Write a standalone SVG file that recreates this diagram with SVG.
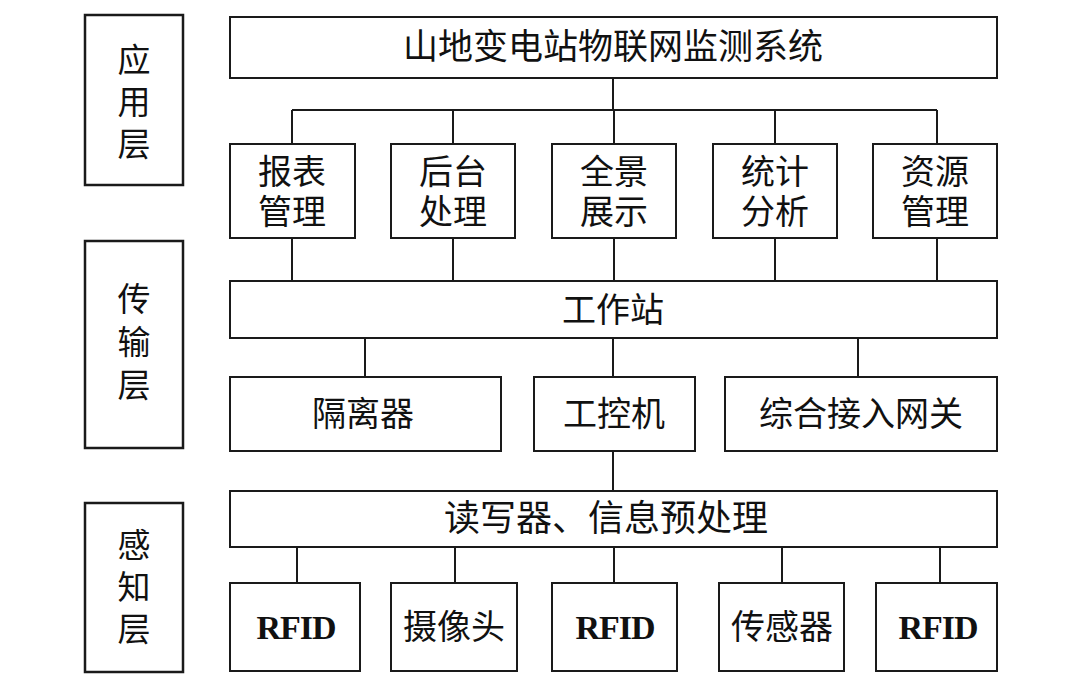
<svg xmlns="http://www.w3.org/2000/svg" width="1080" height="690" viewBox="0 0 1080 690">
<style>
.box{fill:#fff;stroke:#1a1a1a;stroke-width:2}
.lay{fill:#fff;stroke:#1a1a1a;stroke-width:2.5}
.t{font-family:"Liberation Serif","Noto Sans CJK SC",serif;font-size:34px;fill:#111;text-anchor:middle;dominant-baseline:central}
.lbl{font-size:33px}
.big{font-size:35px}
.rd{font-size:36px}
.rf{font-family:"Liberation Serif",serif;font-weight:bold;letter-spacing:-1px}
.c{stroke:#1a1a1a;stroke-width:2;fill:none}
</style>
<rect width="1080" height="690" fill="#fff"/>
<g id="connectors">
<path class="c" d="M613 78V110M292 110H937M292 110V144M453 110V144M614 110V144M775 110V144M937 110V144"/>
<path class="c" d="M292 238V282M453 238V282M614 238V282M775 238V282M937 238V282"/>
<path class="c" d="M365 338V377M613 338V377M858 338V377"/>
<path class="c" d="M613 451V491"/>
<path class="c" d="M297 547V583M455 547V583M614 547V583M782 547V583M940 547V583"/>
</g>
<g id="layer-app"><rect class="lay" x="85" y="15" width="98" height="170"/><text class="t lbl" x="134" y="61">应</text><text class="t lbl" x="134" y="103">用</text><text class="t lbl" x="134" y="145">层</text></g>
<g id="layer-trans"><rect class="lay" x="85" y="241" width="98" height="207"/><text class="t lbl" x="134" y="300">传</text><text class="t lbl" x="134" y="343">输</text><text class="t lbl" x="134" y="386">层</text></g>
<g id="layer-sense"><rect class="lay" x="85" y="503" width="98" height="169"/><text class="t lbl" x="134" y="546">感</text><text class="t lbl" x="134" y="588">知</text><text class="t lbl" x="134" y="630">层</text></g>
<g id="system"><rect class="box" x="230" y="17" width="767" height="61"/><text class="t big" x="613" y="47">山地变电站物联网监测系统</text></g>
<g id="report"><rect class="box" x="230" y="144" width="125" height="94"/><text class="t" x="292" y="172">报表</text><text class="t" x="292" y="212">管理</text></g>
<g id="backend"><rect class="box" x="391" y="144" width="124" height="94"/><text class="t" x="453" y="172">后台</text><text class="t" x="453" y="212">处理</text></g>
<g id="panorama"><rect class="box" x="552" y="144" width="124" height="94"/><text class="t" x="614" y="172">全景</text><text class="t" x="614" y="212">展示</text></g>
<g id="stats"><rect class="box" x="713" y="144" width="124" height="94"/><text class="t" x="775" y="172">统计</text><text class="t" x="775" y="212">分析</text></g>
<g id="resource"><rect class="box" x="873" y="144" width="124" height="94"/><text class="t" x="935" y="172">资源</text><text class="t" x="935" y="212">管理</text></g>
<g id="workstation"><rect class="box" x="230" y="281" width="767" height="57"/><text class="t" x="613" y="310">工作站</text></g>
<g id="isolator"><rect class="box" x="230" y="377" width="271" height="74"/><text class="t" x="363" y="414">隔离器</text></g>
<g id="ipc"><rect class="box" x="534" y="377" width="161" height="74"/><text class="t" x="614" y="414">工控机</text></g>
<g id="gateway"><rect class="box" x="725" y="377" width="272" height="74"/><text class="t" x="861" y="414">综合接入网关</text></g>
<g id="reader"><rect class="box" x="230" y="491" width="767" height="56"/><text class="t rd" x="606" y="519">读写器、信息预处理</text></g>
<g id="rfid1"><rect class="box" x="230" y="583" width="130" height="88"/><text class="t rf" x="296" y="627">RFID</text></g>
<g id="camera"><rect class="box" x="391" y="583" width="126" height="88"/><text class="t" x="454" y="627">摄像头</text></g>
<g id="rfid2"><rect class="box" x="552" y="583" width="125" height="88"/><text class="t rf" x="615" y="627">RFID</text></g>
<g id="sensor"><rect class="box" x="719" y="583" width="125" height="88"/><text class="t" x="782" y="627">传感器</text></g>
<g id="rfid3"><rect class="box" x="876" y="583" width="121" height="88"/><text class="t rf" x="938" y="627">RFID</text></g>
</svg>
